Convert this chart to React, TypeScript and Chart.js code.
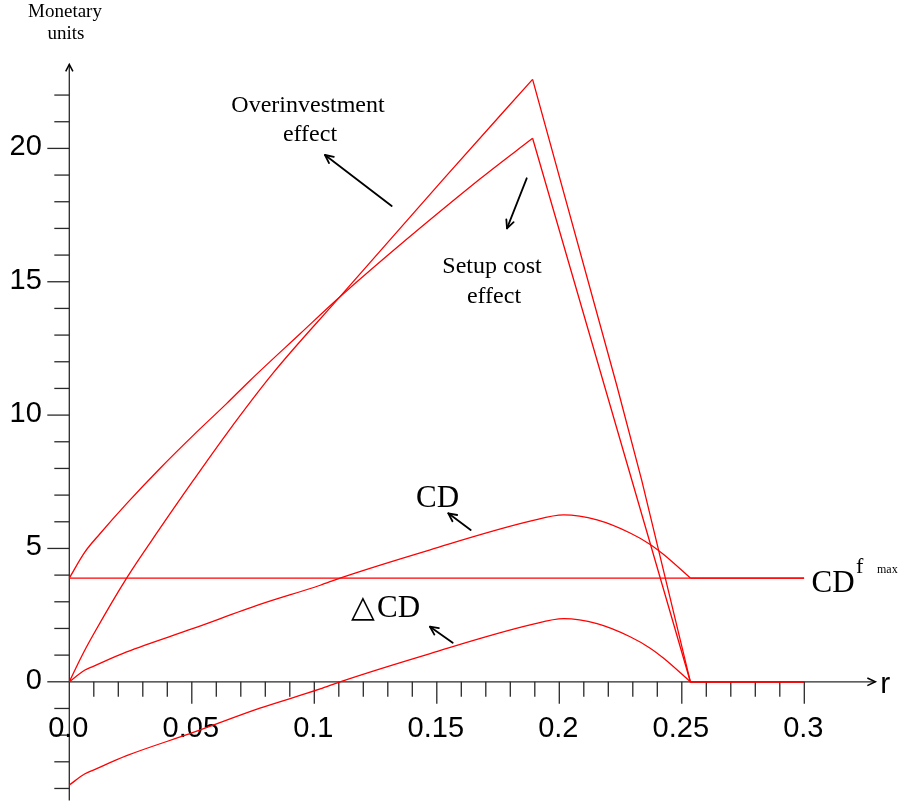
import React, { useEffect, useRef } from 'react';
import { Chart, registerables } from 'chart.js';

Chart.register(...registerables);

// ---- data ----
const CDF_MAX = 3.89;

const overRiseR = [0, 0.005, 0.01, 0.0234, 0.037, 0.0506, 0.0642, 0.0834, 0.1105, 0.1527, 0.1891];
const overRiseV = [0, 0.95, 1.8, 3.89, 5.75, 7.55, 9.3, 11.6, 14.44, 18.85, 22.59];
const overFallR = [0.1891, 0.2235, 0.2336, 0.2535, 0.3];
const overFallV = [22.59, 11.1, 7.57, 0, 0];

const setupRiseR = [0, 0.0064, 0.0126, 0.0234, 0.037, 0.0507, 0.0642, 0.0738, 0.0942, 0.1105, 0.1677, 0.1891];
const setupRiseV = [3.89, 4.87, 5.56, 6.68, 8.0, 9.25, 10.43, 11.3, 13.05, 14.44, 18.86, 20.38];
const setupFallR = [0.1891, 0.2535, 0.3];
const setupFallV = [20.38, 0, 0];

const cdR = [0, 0.0064, 0.0098, 0.0234, 0.0506, 0.0778, 0.1024, 0.1105, 0.1473, 0.1881, 0.2018, 0.2154, 0.2289, 0.2371, 0.2426, 0.2535];
const cdV = [0, 0.44, 0.58, 1.12, 2.0, 2.9, 3.62, 3.89, 4.95, 6.02, 6.26, 6.07, 5.58, 5.15, 4.77, 3.89];
const cdTailR = [0.2535, 0.3];
const cdTailV = [3.89, 3.89];

const dcdR = [0, 0.0064, 0.0098, 0.0234, 0.0506, 0.0778, 0.1024, 0.1105, 0.1473, 0.1881, 0.2018, 0.2154, 0.2289, 0.2371, 0.2426, 0.2535];
const dcdV = [-3.87, -3.45, -3.31, -2.77, -1.9, -0.99, -0.27, 0, 1.06, 2.13, 2.37, 2.18, 1.69, 1.26, 0.88, 0];
const dcdTailR = [0.2535, 0.3];
const dcdTailV = [0, 0];

const cdfR = [0, 0.3];
const cdfV = [CDF_MAX, CDF_MAX];

const xMajorTicks = [0, 0.05, 0.1, 0.15, 0.2, 0.25, 0.3];
const xMajorLabels = ['0.0', '0.05', '0.1', '0.15', '0.2', '0.25', '0.3'];
const yMajorTicks = [0, 5, 10, 15, 20];
const yMajorLabels = ['0', '5', '10', '15', '20'];

const X_MINOR_STEP = 0.01;
const X_TICK_MAX = 0.3;
const Y_TICK_MIN = -4;
const Y_TICK_MAX = 22;
const X_AXIS_END = 0.329;
const Y_AXIS_TOP = 23.15;
const Y_AXIS_BOTTOM = -4.45;

const RED = 'rgb(255,0,0)';
const SERIF = '"Liberation Serif", "Times New Roman", serif';
const SANS = '"Liberation Sans", Arial, sans-serif';

const pts = (r: number[], v: number[]) => r.map((x, i) => ({ x, y: v[i] }));

function drawArrow(ctx: CanvasRenderingContext2D, x1: number, y1: number, x2: number, y2: number, len = 9, lw = 1.8) {
  const a = Math.atan2(y2 - y1, x2 - x1);
  ctx.save();
  ctx.strokeStyle = '#000';
  ctx.lineWidth = lw;
  ctx.lineCap = 'round';
  ctx.lineJoin = 'round';
  ctx.beginPath();
  ctx.moveTo(x1, y1);
  ctx.lineTo(x2, y2);
  ctx.stroke();
  ctx.beginPath();
  ctx.moveTo(x2 - len * Math.cos(a - 0.45), y2 - len * Math.sin(a - 0.45));
  ctx.lineTo(x2, y2);
  ctx.lineTo(x2 - len * Math.cos(a + 0.45), y2 - len * Math.sin(a + 0.45));
  ctx.stroke();
  ctx.restore();
}

const axesPlugin = {
  id: 'customAxes',
  beforeDatasetsDraw(chart: any) {
    const ctx: CanvasRenderingContext2D = chart.ctx;
    const xs = chart.scales.x;
    const ys = chart.scales.y;
    const X = (v: number) => xs.getPixelForValue(v);
    const Y = (v: number) => ys.getPixelForValue(v);
    const x0 = X(0);
    const y0 = Y(0);
    ctx.save();
    ctx.strokeStyle = '#2a2a2a';
    ctx.lineWidth = 1.3;
    ctx.beginPath();
    ctx.moveTo(x0, Y(Y_AXIS_BOTTOM));
    ctx.lineTo(x0, Y(Y_AXIS_TOP));
    ctx.stroke();
    ctx.beginPath();
    ctx.moveTo(x0, y0);
    ctx.lineTo(X(X_AXIS_END), y0);
    ctx.stroke();
    for (let v = Y_TICK_MIN; v <= Y_TICK_MAX; v++) {
      const len = v % 5 === 0 ? 22 : 15;
      ctx.beginPath();
      ctx.moveTo(x0 - len, Y(v));
      ctx.lineTo(x0, Y(v));
      ctx.stroke();
    }
    const n = Math.round(X_TICK_MAX / X_MINOR_STEP);
    for (let i = 1; i <= n; i++) {
      const v = i * X_MINOR_STEP;
      const len = i % 5 === 0 ? 22 : 15;
      ctx.beginPath();
      ctx.moveTo(X(v), y0);
      ctx.lineTo(X(v), y0 + len);
      ctx.stroke();
    }
    ctx.strokeStyle = '#000';
    ctx.lineWidth = 1.5;
    const yt = Y(Y_AXIS_TOP);
    ctx.beginPath();
    ctx.moveTo(x0 - 3.6, yt + 7);
    ctx.lineTo(x0, yt);
    ctx.lineTo(x0 + 3.6, yt + 7);
    ctx.stroke();
    const xt = X(X_AXIS_END);
    ctx.beginPath();
    ctx.moveTo(xt - 8, y0 - 3.8);
    ctx.lineTo(xt, y0);
    ctx.lineTo(xt - 8, y0 + 3.8);
    ctx.stroke();

    ctx.fillStyle = '#000';
    ctx.font = `29px ${SANS}`;
    ctx.textAlign = 'center';
    ctx.textBaseline = 'alphabetic';
    xMajorTicks.forEach((v, i) => {
      ctx.fillText(xMajorLabels[i], X(v) - 1, y0 + 55);
    });
    ctx.textAlign = 'right';
    yMajorTicks.forEach((v, i) => {
      ctx.fillText(yMajorLabels[i], x0 - 27.5, Y(v) + 7);
    });
    ctx.textAlign = 'left';
    ctx.font = `30px ${SANS}`;
    ctx.fillText('r', xt + 5, y0 + 11);
    ctx.restore();
  },
  afterDatasetsDraw(chart: any) {
    const ctx: CanvasRenderingContext2D = chart.ctx;
    ctx.save();
    ctx.fillStyle = '#000';
    ctx.textBaseline = 'alphabetic';
    ctx.textAlign = 'center';
    ctx.font = `19px ${SERIF}`;
    ctx.fillText('Monetary', 65, 17);
    ctx.fillText('units', 66, 39);
    ctx.font = `24px ${SERIF}`;
    ctx.fillText('Overinvestment', 308, 112);
    ctx.fillText('effect', 310, 141);
    ctx.fillText('Setup cost', 492, 273);
    ctx.fillText('effect', 494, 303);
    ctx.font = `31px ${SERIF}`;
    ctx.fillText('CD', 437.5, 507);
    ctx.textAlign = 'left';
    ctx.font = `31px "DejaVu Serif", ${SERIF}`;
    ctx.fillText('△', 351, 617);
    ctx.font = `31px ${SERIF}`;
    ctx.fillText('CD', 377, 617);
    ctx.fillText('CD', 811.5, 591.5);
    ctx.font = `22px ${SERIF}`;
    ctx.fillText('f', 856, 573);
    ctx.font = `12px ${SERIF}`;
    ctx.fillText('max', 877, 573);
    ctx.restore();

    drawArrow(ctx, 391.7, 206, 325, 155);
    drawArrow(ctx, 526.7, 178.3, 507, 228.3);
    drawArrow(ctx, 470.7, 530, 448.3, 513.3);
    drawArrow(ctx, 452.7, 642.7, 430, 626.7);
  },
};

export default function App() {
  const ref = useRef<HTMLCanvasElement | null>(null);
  useEffect(() => {
    if (!ref.current) return;
    const base = { borderColor: RED, borderWidth: 1.3, pointRadius: 0, showLine: true, fill: false };
    const curved = { ...base, cubicInterpolationMode: 'monotone' as const };
    const straight = { ...base, tension: 0 };
    const chart = new Chart(ref.current, {
      type: 'scatter',
      data: {
        datasets: [
          { label: 'Overinvestment effect', data: pts(overRiseR, overRiseV), ...curved },
          { label: 'Overinvestment effect (fall)', data: pts(overFallR, overFallV), ...straight },
          { label: 'Setup cost effect', data: pts(setupRiseR, setupRiseV), ...curved },
          { label: 'Setup cost effect (fall)', data: pts(setupFallR, setupFallV), ...straight },
          { label: 'CD', data: pts(cdR, cdV), ...curved },
          { label: 'CD (tail)', data: pts(cdTailR, cdTailV), ...straight },
          { label: 'ΔCD', data: pts(dcdR, dcdV), ...curved },
          { label: 'ΔCD (tail)', data: pts(dcdTailR, dcdTailV), ...straight },
          { label: 'CDf max', data: pts(cdfR, cdfV), ...straight },
        ] as any,
      },
      options: {
        animation: false,
        responsive: false,
        maintainAspectRatio: false,
        events: [],
        layout: { padding: { left: 69.3, right: 96.7, top: 68.4, bottom: 1.2 } },
        scales: {
          x: { type: 'linear', min: 0, max: 0.3, display: false },
          y: { type: 'linear', min: -4.5, max: 23, display: false },
        },
        plugins: { legend: { display: false }, tooltip: { enabled: false } },
      },
      plugins: [axesPlugin],
    });
    return () => chart.destroy();
  }, []);
  return (
    <div style={{ position: 'fixed', left: 0, top: 0, width: 901, height: 803, background: '#fff' }}>
      <canvas ref={ref} width={901} height={803} style={{ display: 'block', width: 901, height: 803 }} />
    </div>
  );
}
